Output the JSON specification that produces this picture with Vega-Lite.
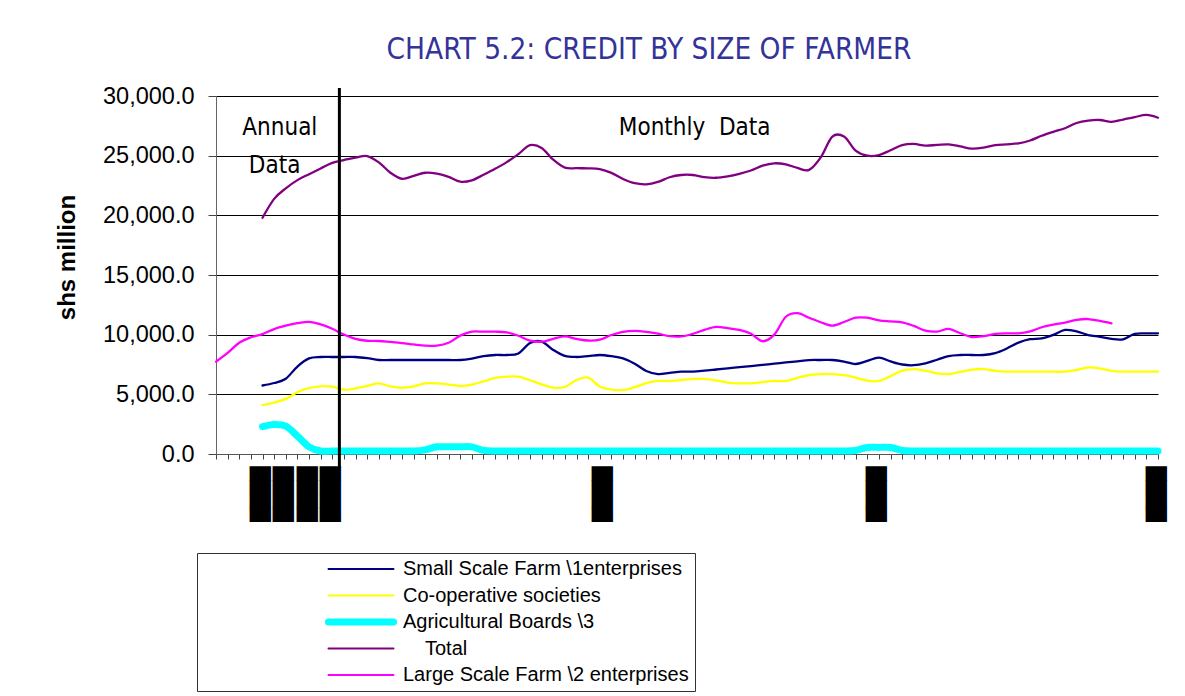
{
  "$schema": "https://vega.github.io/schema/vega-lite/v6.json",
  "width": 942,
  "height": 358,
  "autosize": {"type": "none"},
  "padding": {"left": 216, "top": 96, "right": 27, "bottom": 242},
  "background": "white",
  "title": {"text": "CHART 5.2:  CREDIT BY SIZE OF FARMER", "font": "DejaVu Sans Condensed, Liberation Sans", "fontSize": 29.5, "fontWeight": "normal", "color": "#333399", "anchor": "middle", "dx": -38, "offset": 19},
  "config": {
    "view": {"stroke": null},
    "legend": {
      "orient": "none", "legendX": -19, "legendY": 457, "direction": "vertical",
      "titleOrient": "left", "titleFontSize": 10, "titlePadding": 174,
      "padding": 6, "strokeColor": "#333333", "fillColor": "white",
      "labelFont": "Liberation Sans", "labelFontSize": 20, "labelColor": "black", "labelOffset": 6, "labelLimit": 400,
      "rowPadding": 6.5, "symbolType": "M-9,0H1", "symbolSize": 169
    }
  },
  "data": {"values": [
    {"i": 0, "large": 7735},
    {"i": 1, "large": 8470},
    {"i": 2, "large": 9320},
    {"i": 3, "large": 9780},
    {"i": 4, "small": 5740, "coop": 4100, "boards": 2290, "total": 19800, "large": 10050},
    {"i": 5, "small": 5950, "coop": 4310, "boards": 2480, "total": 21380, "large": 10470},
    {"i": 6, "small": 6310, "coop": 4620, "boards": 2330, "total": 22260, "large": 10750},
    {"i": 7, "small": 7330, "coop": 5180, "boards": 1500, "total": 22950, "large": 10960},
    {"i": 8, "small": 8010, "coop": 5520, "boards": 600, "total": 23450, "large": 11070},
    {"i": 9, "small": 8130, "coop": 5670, "boards": 250, "total": 23930, "large": 10860},
    {"i": 10, "small": 8130, "coop": 5640, "boards": 250, "total": 24400, "large": 10490},
    {"i": 11, "small": 8130, "coop": 5390, "boards": 250, "total": 24630, "large": 10010},
    {"i": 12, "small": 8130, "coop": 5500, "boards": 250, "total": 24840, "large": 9650},
    {"i": 13, "small": 8030, "coop": 5700, "boards": 250, "total": 24970, "large": 9490},
    {"i": 14, "small": 7877, "coop": 5920, "boards": 250, "total": 24440, "large": 9470},
    {"i": 15, "small": 7877, "coop": 5660, "boards": 250, "total": 23570, "large": 9390},
    {"i": 16, "small": 7877, "coop": 5550, "boards": 250, "total": 23060, "large": 9300},
    {"i": 17, "small": 7877, "coop": 5670, "boards": 250, "total": 23310, "large": 9180},
    {"i": 18, "small": 7877, "coop": 5920, "boards": 350, "total": 23570, "large": 9080},
    {"i": 19, "small": 7877, "coop": 5920, "boards": 600, "total": 23490, "large": 9080},
    {"i": 20, "small": 7877, "coop": 5820, "boards": 600, "total": 23230, "large": 9320},
    {"i": 21, "small": 7877, "coop": 5700, "boards": 600, "total": 22820, "large": 9920},
    {"i": 22, "small": 8000, "coop": 5820, "boards": 600, "total": 22930, "large": 10250},
    {"i": 23, "small": 8200, "coop": 6080, "boards": 300, "total": 23400, "large": 10250},
    {"i": 24, "small": 8296, "coop": 6370, "boards": 250, "total": 23900, "large": 10250},
    {"i": 25, "small": 8296, "coop": 6480, "boards": 250, "total": 24460, "large": 10190},
    {"i": 26, "small": 8420, "coop": 6480, "boards": 250, "total": 25130, "large": 9910},
    {"i": 27, "small": 9300, "coop": 6180, "boards": 250, "total": 25880, "large": 9500},
    {"i": 28, "small": 9420, "coop": 5840, "boards": 250, "total": 25650, "large": 9410},
    {"i": 29, "small": 8720, "coop": 5560, "boards": 250, "total": 24660, "large": 9650},
    {"i": 30, "small": 8220, "coop": 5620, "boards": 250, "total": 24000, "large": 9850},
    {"i": 31, "small": 8130, "coop": 6200, "boards": 250, "total": 23950, "large": 9650},
    {"i": 32, "small": 8200, "coop": 6400, "boards": 250, "total": 23940, "large": 9510},
    {"i": 33, "small": 8296, "coop": 5660, "boards": 250, "total": 23880, "large": 9580},
    {"i": 34, "small": 8200, "coop": 5400, "boards": 250, "total": 23560, "large": 9970},
    {"i": 35, "small": 8010, "coop": 5360, "boards": 250, "total": 23050, "large": 10240},
    {"i": 36, "small": 7570, "coop": 5600, "boards": 250, "total": 22690, "large": 10310},
    {"i": 37, "small": 6960, "coop": 5930, "boards": 250, "total": 22600, "large": 10240},
    {"i": 38, "small": 6700, "coop": 6120, "boards": 250, "total": 22800, "large": 10090},
    {"i": 39, "small": 6790, "coop": 6120, "boards": 250, "total": 23190, "large": 9870},
    {"i": 40, "small": 6900, "coop": 6200, "boards": 250, "total": 23380, "large": 9850},
    {"i": 41, "small": 6900, "coop": 6290, "boards": 250, "total": 23380, "large": 10070},
    {"i": 42, "small": 6980, "coop": 6290, "boards": 250, "total": 23200, "large": 10400},
    {"i": 43, "small": 7080, "coop": 6170, "boards": 250, "total": 23150, "large": 10650},
    {"i": 44, "small": 7180, "coop": 5980, "boards": 250, "total": 23270, "large": 10540},
    {"i": 45, "small": 7280, "coop": 5920, "boards": 250, "total": 23480, "large": 10400},
    {"i": 46, "small": 7370, "coop": 5920, "boards": 250, "total": 23760, "large": 10070},
    {"i": 47, "small": 7470, "coop": 6020, "boards": 250, "total": 24160, "large": 9450},
    {"i": 48, "small": 7570, "coop": 6120, "boards": 250, "total": 24360, "large": 10000},
    {"i": 49, "small": 7670, "coop": 6120, "boards": 250, "total": 24270, "large": 11500},
    {"i": 50, "small": 7770, "coop": 6380, "boards": 250, "total": 23970, "large": 11800},
    {"i": 51, "small": 7870, "coop": 6620, "boards": 250, "total": 23810, "large": 11420},
    {"i": 52, "small": 7877, "coop": 6700, "boards": 250, "total": 24860, "large": 11040},
    {"i": 53, "small": 7877, "coop": 6700, "boards": 250, "total": 26600, "large": 10760},
    {"i": 54, "small": 7750, "coop": 6610, "boards": 250, "total": 26600, "large": 11060},
    {"i": 55, "small": 7540, "coop": 6400, "boards": 300, "total": 25430, "large": 11420},
    {"i": 56, "small": 7800, "coop": 6150, "boards": 550, "total": 25000, "large": 11420},
    {"i": 57, "small": 8080, "coop": 6120, "boards": 550, "total": 25050, "large": 11200},
    {"i": 58, "small": 7760, "coop": 6530, "boards": 550, "total": 25450, "large": 11110},
    {"i": 59, "small": 7500, "coop": 6980, "boards": 300, "total": 25880, "large": 11030},
    {"i": 60, "small": 7440, "coop": 7120, "boards": 250, "total": 25980, "large": 10730},
    {"i": 61, "small": 7600, "coop": 6980, "boards": 250, "total": 25840, "large": 10340},
    {"i": 62, "small": 7900, "coop": 6750, "boards": 250, "total": 25900, "large": 10260},
    {"i": 63, "small": 8210, "coop": 6700, "boards": 250, "total": 25950, "large": 10480},
    {"i": 64, "small": 8296, "coop": 6880, "boards": 250, "total": 25780, "large": 10120},
    {"i": 65, "small": 8296, "coop": 7070, "boards": 250, "total": 25590, "large": 9800},
    {"i": 66, "small": 8296, "coop": 7120, "boards": 250, "total": 25670, "large": 9880},
    {"i": 67, "small": 8450, "coop": 6970, "boards": 250, "total": 25880, "large": 10060},
    {"i": 68, "small": 8840, "coop": 6900, "boards": 250, "total": 25950, "large": 10110},
    {"i": 69, "small": 9330, "coop": 6900, "boards": 250, "total": 26030, "large": 10110},
    {"i": 70, "small": 9620, "coop": 6900, "boards": 250, "total": 26270, "large": 10270},
    {"i": 71, "small": 9690, "coop": 6900, "boards": 250, "total": 26670, "large": 10620},
    {"i": 72, "small": 9980, "coop": 6900, "boards": 250, "total": 27000, "large": 10840},
    {"i": 73, "small": 10400, "coop": 6900, "boards": 250, "total": 27300, "large": 11010},
    {"i": 74, "small": 10270, "coop": 7050, "boards": 250, "total": 27740, "large": 11240},
    {"i": 75, "small": 9970, "coop": 7260, "boards": 250, "total": 27940, "large": 11310},
    {"i": 76, "small": 9820, "coop": 7180, "boards": 250, "total": 27990, "large": 11150},
    {"i": 77, "small": 9640, "coop": 6960, "boards": 250, "total": 27830, "large": 10950},
    {"i": 78, "small": 9610, "coop": 6900, "boards": 250, "total": 28030},
    {"i": 79, "small": 10060, "coop": 6900, "boards": 250, "total": 28230},
    {"i": 80, "small": 10110, "coop": 6900, "boards": 250, "total": 28410},
    {"i": 81, "small": 10110, "coop": 6900, "boards": 250, "total": 28180}
  ]},
  "layer": [
    {
      "transform": [{"fold": ["small", "coop", "boards", "total", "large"], "as": ["series", "v"]}],
      "mark": {"type": "line", "interpolate": "cardinal", "tension": 0, "strokeCap": "round", "strokeJoin": "round"},
      "encoding": {
        "x": {"field": "i", "type": "quantitative",
          "scale": {"domain": [0, 81], "nice": false, "zero": false},
          "axis": {
            "values": [0,1,2,3,4,5,6,7,8,9,10,11,12,13,14,15,16,17,18,19,20,21,22,23,24,25,26,27,28,29,30,31,32,33,34,35,36,37,38,39,40,41,42,43,44,45,46,47,48,49,50,51,52,53,54,55,56,57,58,59,60,61,62,63,64,65,66,67,68,69,70,71,72,73,74,75,76,77,78,79,80,81],
            "tickCount": 200,
            "labelExpr": "indexof([4,6,8,10,33,57,81], datum.value) >= 0 ? '\u2588\u2588\u2588\u2588' : ''",
            "labelAngle": 90, "labelFont": "DejaVu Sans", "labelFontSize": 18, "labelColor": "black",
            "labelPadding": 7,
            "labelOffset": {"condition": {"test": "datum.value === 33", "value": 1}, "value": -4},
            "labelOverlap": false, "labelBound": false, "labelFlush": false,
            "tickSize": 5, "tickColor": "#444444", "domainColor": "#555555", "grid": false, "title": null
          }},
        "y": {"field": "v", "type": "quantitative",
          "scale": {"domain": [0, 30000], "nice": false},
          "axis": {
            "values": [0, 5000, 10000, 15000, 20000, 25000, 30000], "format": ",.1f",
            "labelFont": "Liberation Sans", "labelFontSize": 23.5, "labelColor": "black", "labelPadding": 14,
            "tickSize": 8, "tickColor": "#444444", "domainColor": "#666666",
            "grid": true, "gridColor": "black", "gridWidth": 1, "gridOpacity": 1,
            "title": "shs million", "titleFont": "Liberation Sans", "titleFontSize": 24, "titleFontWeight": "bold", "titleColor": "black",
            "titleAngle": -90, "titleX": -142, "titleY": 161, "titleBaseline": "alphabetic", "titleAlign": "center"
          }},
        "color": {"field": "series", "type": "nominal",
          "scale": {"domain": ["small", "coop", "boards", "total", "large"], "range": ["#000080", "#FFFF00", "#00FFFF", "#800080", "#FF00FF"]},
          "legend": {
            "title": "\u00a0",
            "labelExpr": "datum.label == 'small' ? 'Small Scale Farm \\\\1enterprises' : datum.label == 'coop' ? 'Co-operative societies' : datum.label == 'boards' ? 'Agricultural Boards \\\\3' : datum.label == 'total' ? 'Total' : 'Large Scale Farm \\\\2 enterprises'",
            "encode": {
              "symbols": {"update": {"strokeWidth": {"signal": "datum.value === 'boards' ? 7 : 2"}, "strokeCap": {"value": "round"}, "strokeJoin": {"value": "round"}}},
              "labels": {"update": {"dx": {"signal": "datum.value === 'total' ? 22 : 0"}}}
            }
          }},
        "strokeWidth": {"condition": {"test": "datum.series === 'boards'", "value": 7}, "value": 2.3}
      }
    },
    {
      "data": {"values": [{}]},
      "mark": {"type": "rule", "strokeWidth": 3, "color": "black"},
      "encoding": {
        "x": {"datum": 10.61, "type": "quantitative"},
        "y": {"datum": -1170, "type": "quantitative"},
        "y2": {"datum": 30670}
      }
    },
    {
      "data": {"values": [
        {"label": "Annual", "i": 5.49, "v": 26730},
        {"label": "Data", "i": 5.04, "v": 23570},
        {"label": "Monthly\u00a0 Data", "i": 41.16, "v": 26730}
      ]},
      "mark": {"type": "text", "font": "DejaVu Sans Condensed, Liberation Sans", "fontSize": 24, "align": "center", "baseline": "alphabetic", "color": "black"},
      "encoding": {
        "x": {"field": "i", "type": "quantitative"},
        "y": {"field": "v", "type": "quantitative"},
        "text": {"field": "label"}
      }
    }
  ]
}
